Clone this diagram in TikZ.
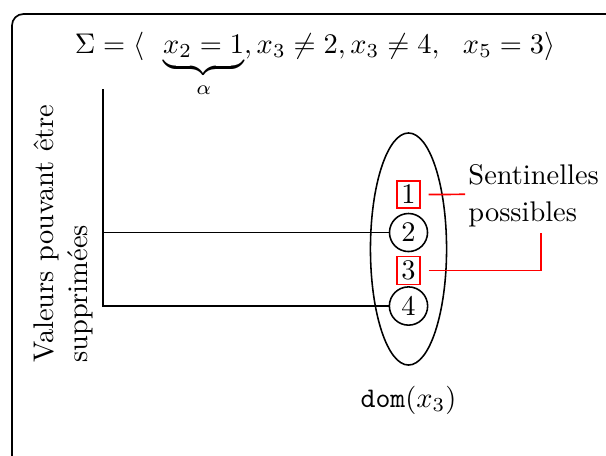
\documentclass[tikz,border=0pt]{standalone}
\usetikzlibrary{shapes.geometric}
\begin{document}
\begin{tikzpicture}[x=0.3521pt,y=-0.3521pt, line width=0.55pt,
  valnode/.style={circle, draw, inner sep=1.8pt},
  sentbox/.style={rectangle, draw=red, inner sep=1.5pt},
  redline/.style={draw=red, line width=0.6pt}]
\useasboundingbox (0,0) rectangle (606,455);
\clip (0,0) rectangle (606,455);
\draw[rounded corners=4pt, line width=0.6pt] (12,480) |- (640,14);

\node[anchor=base west, inner sep=0] (sigma) at (74,53)
  {$\Sigma = \langle\ \ \underbrace{x_2 = 1}_{\alpha}, x_3 \neq 2, x_3 \neq 4,\ \ x_5 = 3\rangle$};

\node[draw, ellipse, inner sep=0, minimum width=26.8pt, minimum height=81.7pt] (dom) at (408.5,249) {};
\node[sentbox] (b1) at (408.5,194.5) {1};
\node[valnode] (n2) at (408.5,232.5) {2};
\node[sentbox] (b3) at (408.5,270.5) {3};
\node[valnode] (n4) at (408.5,306) {4};

\node[anchor=base, inner sep=0] (domlabel) at (408.5,407) {$\mathtt{dom}(x_3)$};

\coordinate (top) at (103,89);
\draw (top) |- (n4.west);
\draw (n2.west -| top) -- (n2.west);

\node[rotate=90, anchor=north west, inner sep=0, align=left,
  font=\fontsize{10}{12}\selectfont] (vals) at (32.6,363.5)
  {Valeurs pouvant être\\supprimées};

\node[anchor=north west, inner sep=0, align=left,
  font=\fontsize{10}{13}\selectfont] (sent) at (467.7,163.6)
  {Sentinelles\\possibles};

\coordinate (r1) at (465,194.3);
\coordinate (r2) at (541,232.7);
\draw[redline] ([xshift=2.8pt]b1.east) -- (r1);
\draw[redline] ([xshift=2.8pt]b3.east) -| (r2);
\end{tikzpicture}
\end{document}
